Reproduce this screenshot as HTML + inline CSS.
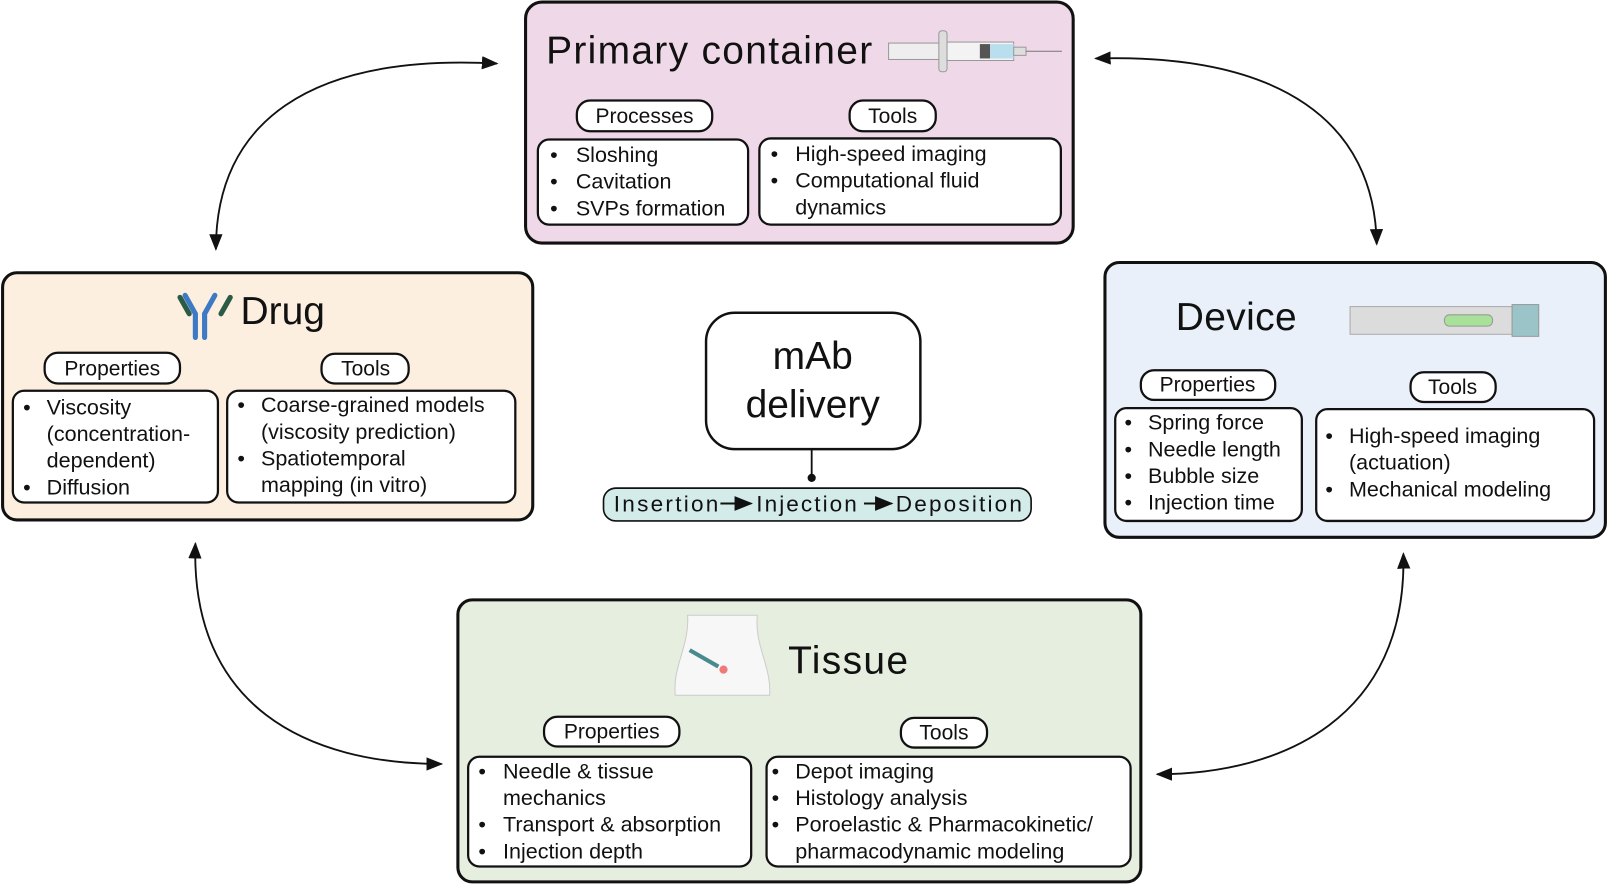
<!DOCTYPE html>
<html><head><meta charset="utf-8"><style>
html,body{margin:0;padding:0;background:#fff;width:1609px;height:886px;overflow:hidden}
svg{display:block}
text{font-family:"Liberation Sans",sans-serif;fill:#111}
.t{font-size:21px}
.p{font-size:20.5px;text-anchor:middle}
.h{font-size:38px}
.box{stroke:#111;stroke-width:3}
.in{fill:#fff;stroke:#111;stroke-width:2.2}
.ar{fill:none;stroke:#111;stroke-width:1.8}
</style></head><body>
<svg width="1609" height="886" viewBox="0 0 1568 864" xmlns="http://www.w3.org/2000/svg">
<defs><marker id="a" viewBox="0 0 10 10" refX="9" refY="5" markerWidth="9" markerHeight="9" orient="auto-start-reverse"><path d="M0,1 L10,5 L0,9 Z" fill="#111"/></marker></defs>

<path class="ar" d="M484,62 C300,52 210,120 210,243" marker-start="url(#a)" marker-end="url(#a)"/>
<path class="ar" d="M1068,57 C1250,52 1340,120 1342,238" marker-start="url(#a)" marker-end="url(#a)"/>
<path class="ar" d="M190,530 C185,690 300,745 430,745" marker-start="url(#a)" marker-end="url(#a)"/>
<path class="ar" d="M1368,540 C1372,700 1250,755 1128,755" marker-start="url(#a)" marker-end="url(#a)"/>

<!-- Primary container -->
<rect class="box" x="512" y="2" width="534" height="235" rx="16" fill="#efd9e8"/>
<text class="h" x="532" y="62" textLength="318">Primary container</text>
<g>
<rect x="866" y="42" width="50" height="16" fill="#eee" stroke="#999"/>
<rect x="915" y="30" width="8" height="40" rx="3" fill="#ddd" stroke="#999"/>
<rect x="923" y="41" width="65" height="18" fill="#f3f3f3" stroke="#999"/>
<rect x="955" y="43" width="10" height="14" fill="#555"/>
<rect x="965" y="43" width="23" height="14" fill="#b9dfee"/>
<rect x="988" y="46" width="12" height="8" fill="#ddd" stroke="#999"/>
<line x1="1000" y1="50" x2="1035" y2="50" stroke="#777"/>
</g>
<rect class="in" x="562" y="98" width="132" height="30" rx="13"/><text class="p" x="628" y="120">Processes</text>
<rect class="in" x="828" y="98" width="84" height="30" rx="13"/><text class="p" x="870" y="120">Tools</text>
<rect class="in" x="524" y="136" width="205" height="83" rx="11"/>
<text class="t"><tspan x="536" y="158">•</tspan><tspan x="561">Sloshing</tspan><tspan x="536" y="184">•</tspan><tspan x="561">Cavitation</tspan><tspan x="536" y="210">•</tspan><tspan x="561">SVPs formation</tspan></text>
<rect class="in" x="740" y="135" width="294" height="84" rx="11"/>
<text class="t"><tspan x="751" y="157">•</tspan><tspan x="775">High-speed imaging</tspan><tspan x="751" y="183">•</tspan><tspan x="775">Computational fluid</tspan><tspan x="775" y="209">dynamics</tspan></text>

<!-- Drug -->
<rect class="box" x="2" y="266" width="517" height="241" rx="14" fill="#fcefdf"/>
<g stroke-linecap="round" fill="none">
<path d="M190,329 L190,306 L180,288" stroke="#3d79c4" stroke-width="5"/>
<path d="M199,329 L199,306 L209,288" stroke="#3d79c4" stroke-width="5"/>
<path d="M175,290 L184,306 M224,290 L215,306" stroke="#2b5a45" stroke-width="5"/>
</g>
<text class="h" x="234" y="316">Drug</text>
<rect class="in" x="43" y="344" width="132" height="30" rx="13"/><text class="p" x="109" y="366">Properties</text>
<rect class="in" x="313" y="345" width="85" height="29" rx="13"/><text class="p" x="356" y="366">Tools</text>
<rect class="in" x="12" y="381" width="200" height="109" rx="11"/>
<text class="t"><tspan x="22" y="404">•</tspan><tspan x="45">Viscosity</tspan><tspan x="45" y="430">(concentration-</tspan><tspan x="45" y="456">dependent)</tspan><tspan x="22" y="482">•</tspan><tspan x="45">Diffusion</tspan></text>
<rect class="in" x="221" y="381" width="281" height="109" rx="11"/>
<text class="t"><tspan x="231" y="402">•</tspan><tspan x="254">Coarse-grained models</tspan><tspan x="254" y="428">(viscosity prediction)</tspan><tspan x="231" y="454">•</tspan><tspan x="254">Spatiotemporal</tspan><tspan x="254" y="480">mapping (in vitro)</tspan></text>

<!-- Device -->
<rect class="box" x="1077" y="256" width="488" height="268" rx="14" fill="#e9f0f9"/>
<text class="h" x="1146" y="322" textLength="118">Device</text>
<rect x="1316" y="299" width="158" height="27" fill="#dcdcdc" stroke="#aaa"/>
<rect x="1408" y="307" width="47" height="11" rx="5" fill="#a8e29a" stroke="#999"/>
<rect x="1474" y="297" width="26" height="31" fill="#9bc4c8" stroke="#999"/>
<rect class="in" x="1112" y="361" width="131" height="29" rx="13"/><text class="p" x="1177" y="382">Properties</text>
<rect class="in" x="1375" y="363" width="83" height="29" rx="13"/><text class="p" x="1416" y="384">Tools</text>
<rect class="in" x="1087" y="398" width="182" height="110" rx="11"/>
<text class="t"><tspan x="1096" y="419">•</tspan><tspan x="1119">Spring force</tspan><tspan x="1096" y="445">•</tspan><tspan x="1119">Needle length</tspan><tspan x="1096" y="471">•</tspan><tspan x="1119">Bubble size</tspan><tspan x="1096" y="497">•</tspan><tspan x="1119">Injection time</tspan></text>
<rect class="in" x="1283" y="399" width="271" height="109" rx="11"/>
<text class="t"><tspan x="1292" y="432">•</tspan><tspan x="1315">High-speed imaging</tspan><tspan x="1315" y="458">(actuation)</tspan><tspan x="1292" y="484">•</tspan><tspan x="1315">Mechanical modeling</tspan></text>

<!-- Tissue -->
<rect class="box" x="446" y="585" width="666" height="275" rx="14" fill="#e6eedf"/>
<path d="M670,600 C672,630 655,650 658,678 L750,678 C752,650 735,630 738,600 Z" fill="#f7f7f7" stroke="#ccc"/>
<line x1="672" y1="634" x2="700" y2="650" stroke="#4a8a8e" stroke-width="4"/>
<circle cx="705" cy="653" r="4" fill="#f07a7a"/>
<text class="h" x="768" y="657" textLength="117">Tissue</text>
<rect class="in" x="530" y="699" width="132" height="29" rx="13"/><text class="p" x="596" y="720">Properties</text>
<rect class="in" x="878" y="700" width="84" height="29" rx="13"/><text class="p" x="920" y="721">Tools</text>
<rect class="in" x="456" y="738" width="276" height="107" rx="11"/>
<text class="t"><tspan x="466" y="759">•</tspan><tspan x="490">Needle &amp; tissue</tspan><tspan x="490" y="785">mechanics</tspan><tspan x="466" y="811">•</tspan><tspan x="490">Transport &amp; absorption</tspan><tspan x="466" y="837">•</tspan><tspan x="490">Injection depth</tspan></text>
<rect class="in" x="747" y="738" width="355" height="107" rx="11"/>
<text class="t"><tspan x="752" y="759">•</tspan><tspan x="775">Depot imaging</tspan><tspan x="752" y="785">•</tspan><tspan x="775">Histology analysis</tspan><tspan x="752" y="811">•</tspan><tspan x="775">Poroelastic &amp; Pharmacokinetic/</tspan><tspan x="775" y="837">pharmacodynamic modeling</tspan></text>

<!-- center -->
<rect x="688" y="305" width="209" height="133" rx="28" fill="#fff" stroke="#111" stroke-width="2.4"/>
<text class="h" x="792" y="360" text-anchor="middle">mAb</text>
<text class="h" x="792" y="407" text-anchor="middle">delivery</text>
<line x1="791" y1="438" x2="791" y2="466" stroke="#111" stroke-width="1.8"/>
<circle cx="791" cy="466" r="4" fill="#111"/>
<rect x="588" y="476" width="417" height="32" rx="12" fill="#d3ebe9" stroke="#111" stroke-width="1.6"/>
<text class="t" x="598" y="499" style="font-size:22px" textLength="102">Insertion</text>
<line x1="702" y1="491" x2="732" y2="491" stroke="#111" stroke-width="2" marker-end="url(#a)"/>
<text class="t" x="737" y="499" style="font-size:22px" textLength="98">Injection</text>
<line x1="842" y1="491" x2="869" y2="491" stroke="#111" stroke-width="2" marker-end="url(#a)"/>
<text class="t" x="873" y="499" style="font-size:22px" textLength="123">Deposition</text>
</svg>
</body></html>
